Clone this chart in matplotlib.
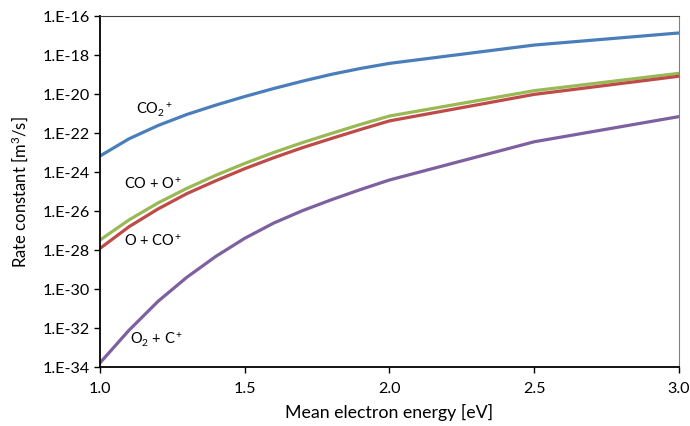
import numpy as np
import matplotlib
matplotlib.use("Agg")
import matplotlib.pyplot as plt
from matplotlib.ticker import FixedLocator, FuncFormatter, NullLocator

plt.rcParams['font.family'] = ['Lato', 'DejaVu Sans']
plt.rcParams['mathtext.fontset'] = 'custom'
plt.rcParams['mathtext.rm'] = 'Lato'
plt.rcParams['mathtext.it'] = 'Lato:italic'
plt.rcParams['mathtext.default'] = 'regular'

# mean electron energy [eV]
energy = [1.0, 1.1, 1.2, 1.3, 1.4, 1.5, 1.6, 1.7, 1.8, 1.9, 2.0, 2.5, 3.0]

# log10 of rate constants [m3/s] for each product channel
log_co2 = [-23.18, -22.30, -21.62, -21.05, -20.57, -20.13, -19.72, -19.34,
           -18.99, -18.69, -18.43, -17.49, -16.87]
log_co_op = [-27.49, -26.46, -25.59, -24.84, -24.17, -23.56, -23.00, -22.49,
             -22.02, -21.56, -21.13, -19.83, -18.94]
log_o_cop = [-27.92, -26.81, -25.90, -25.11, -24.45, -23.83, -23.27, -22.75,
             -22.28, -21.82, -21.38, -20.02, -19.09]
log_o2_cp = [-33.79, -32.12, -30.64, -29.40, -28.33, -27.40, -26.62, -25.98,
             -25.42, -24.90, -24.41, -22.45, -21.16]

series = [
    (log_co2, '#4a7ebb', r'CO$_2$$^+$', (1.19, -20.77)),
    (log_co_op, '#98b954', r'CO + O$^+$', (1.185, -24.56)),
    (log_o_cop, '#be4b48', r'O + CO$^+$', (1.185, -27.49)),
    (log_o2_cp, '#7d60a0', r'O$_2$ + C$^+$', (1.197, -32.56)),
]

fig = plt.figure(figsize=(6.9, 4.27), dpi=100)
ax = fig.add_axes([0.1449, 0.1382, 0.8391, 0.8220])

for logk, color, label, (lx, ly) in series:
    ax.plot(energy, 10.0 ** np.array(logk), color=color, lw=2.3,
            solid_joinstyle='round')
    ax.text(lx, 10.0 ** ly, label, ha='center', va='center', fontsize=10.5)

ax.set_yscale('log')
ax.set_xlim(1.0, 3.0)
ax.set_ylim(1e-34, 1e-16)

ax.yaxis.set_major_locator(FixedLocator([10.0 ** e for e in range(-34, -15, 2)]))
ax.yaxis.set_minor_locator(NullLocator())
ax.yaxis.set_major_formatter(
    FuncFormatter(lambda v, p: '1.E%d' % int(round(np.log10(v)))))
ax.set_xticks([1.0, 1.5, 2.0, 2.5, 3.0])
ax.xaxis.set_major_formatter(FuncFormatter(lambda v, p: '%.1f' % v))

ax.tick_params(axis='both', direction='out', length=4, width=1,
               labelsize=11.6, color='black')
ax.tick_params(axis='x', pad=6)

for side in ['left', 'bottom']:
    ax.spines[side].set_linewidth(1.3)
    ax.spines[side].set_color('black')
ax.spines['top'].set_linewidth(0.8)
ax.spines['top'].set_color('#404040')
ax.spines['right'].set_linewidth(0.8)
ax.spines['right'].set_color('#808080')

ax.set_xlabel('Mean electron energy [eV]', fontsize=12.8, labelpad=6)
ax.set_ylabel('Rate constant [m$^3$/s]', fontsize=12, labelpad=9)

fig.savefig('out.png', dpi=100)
